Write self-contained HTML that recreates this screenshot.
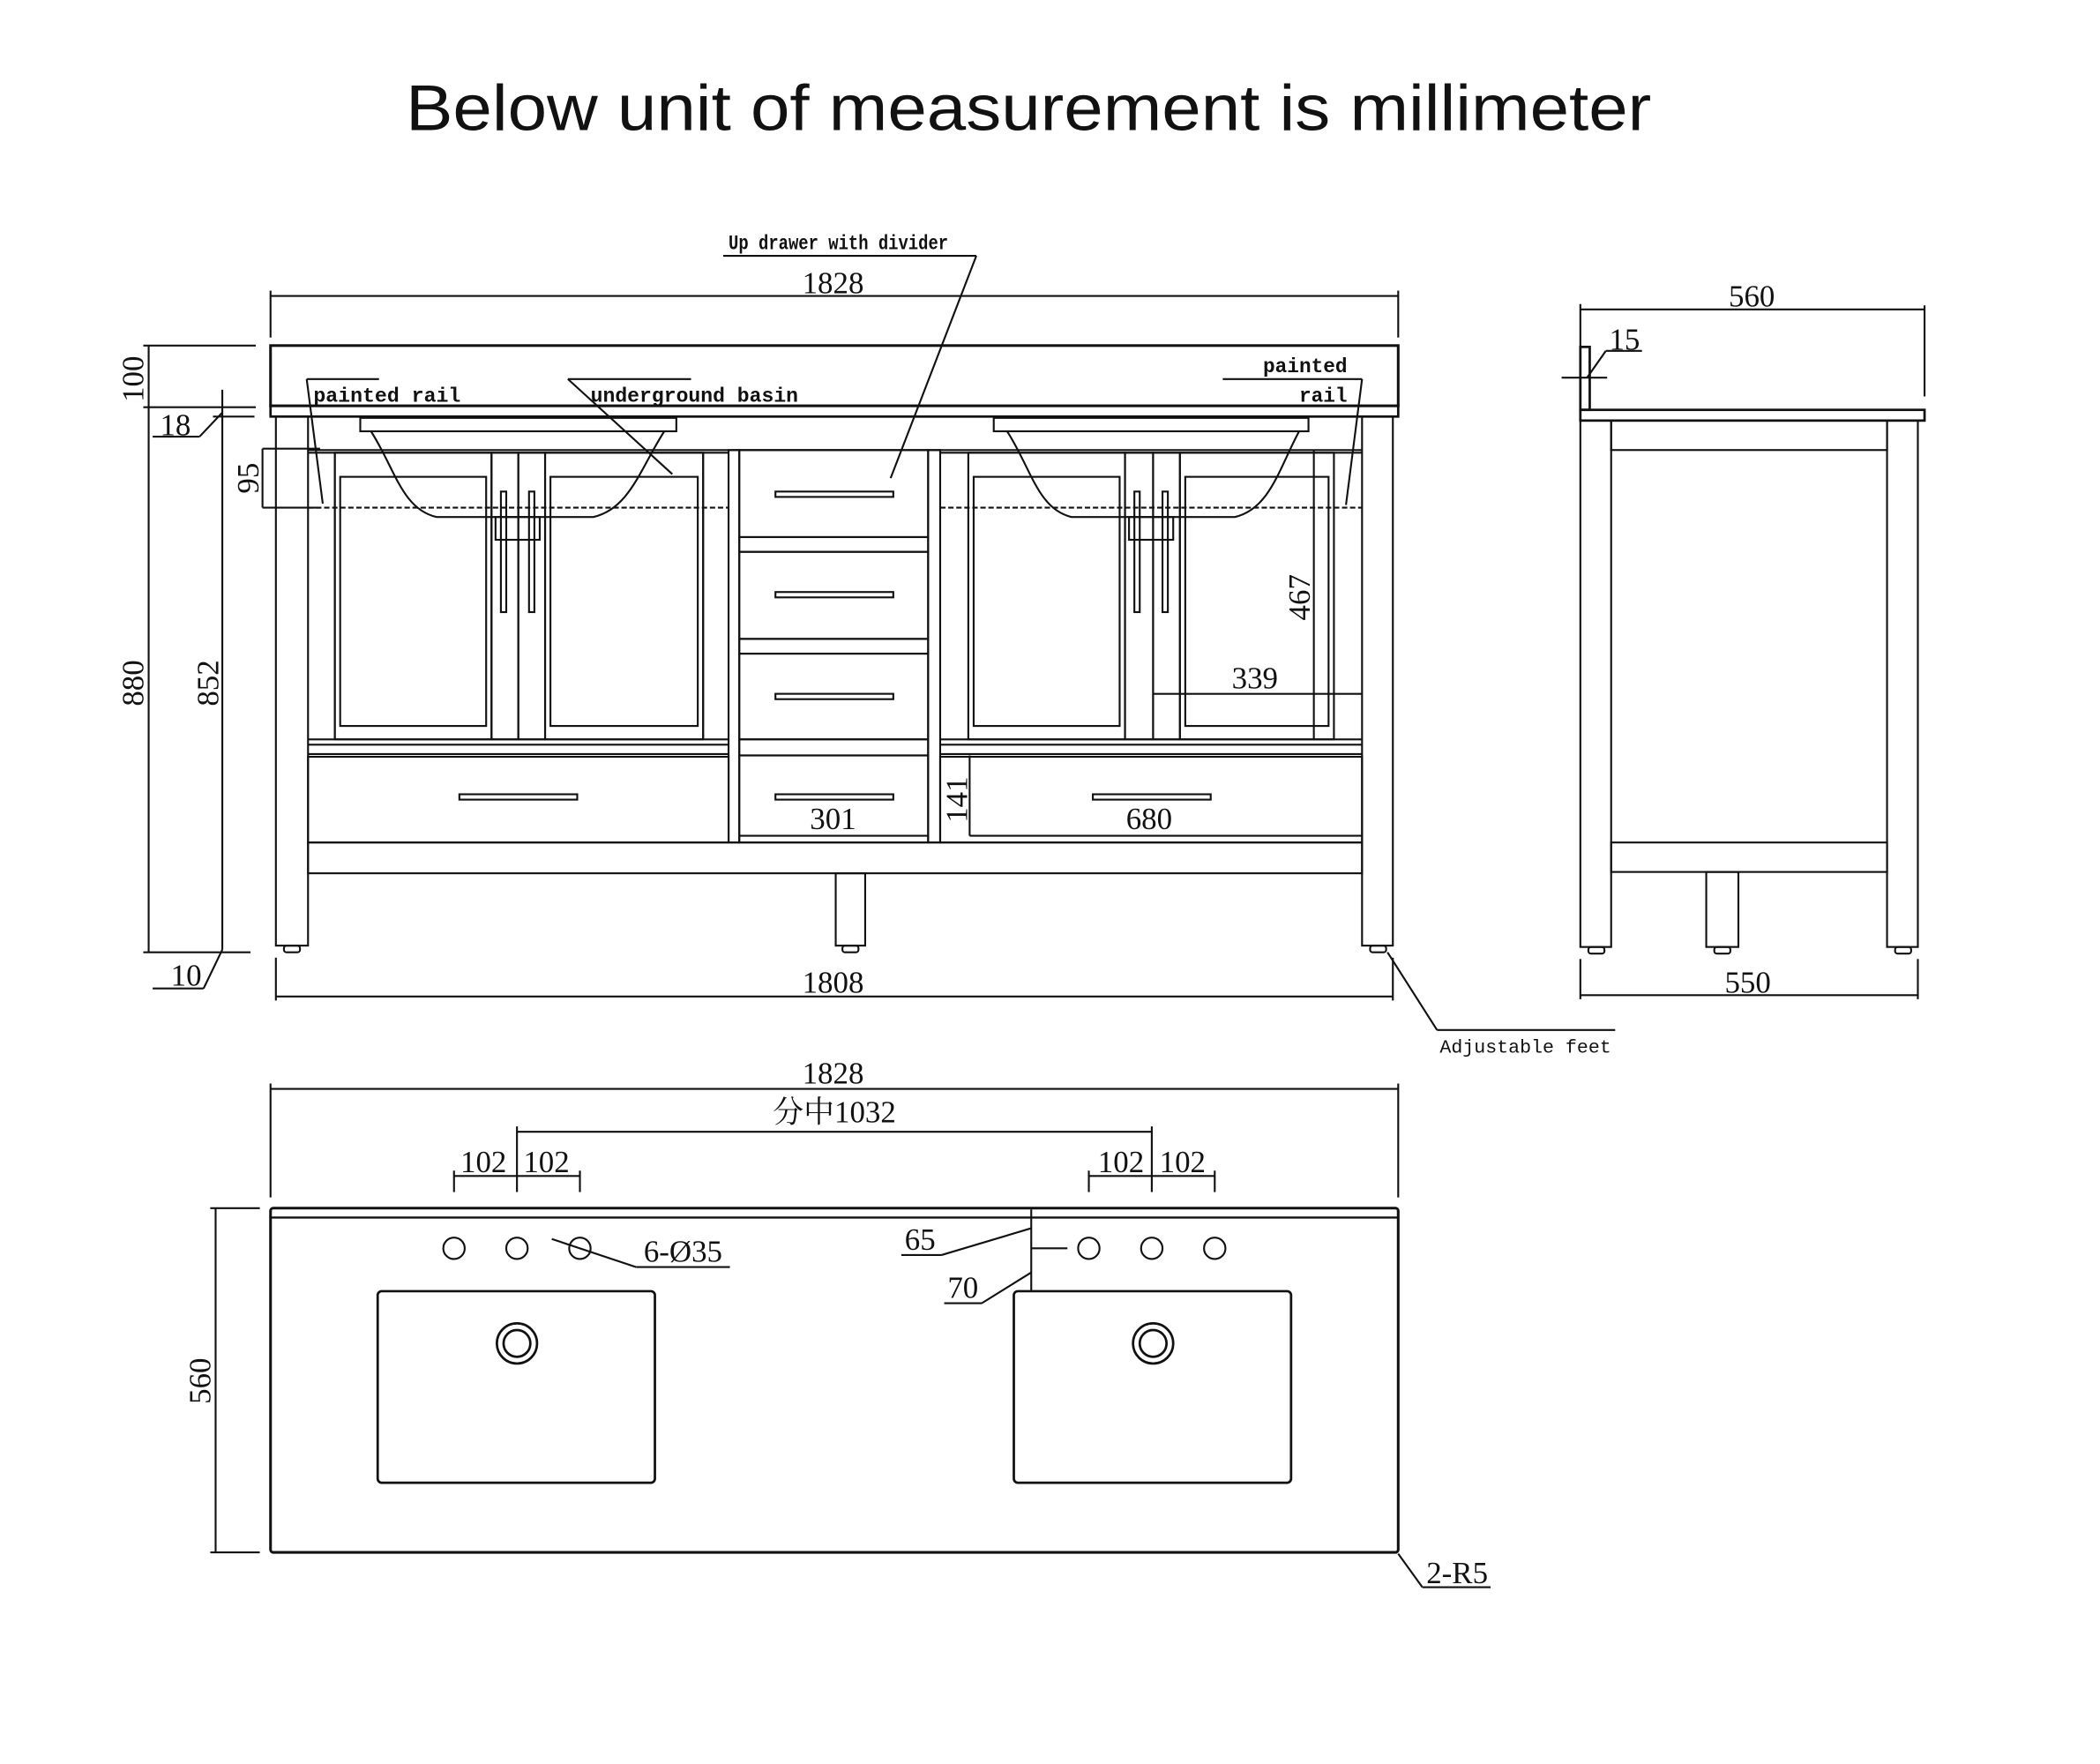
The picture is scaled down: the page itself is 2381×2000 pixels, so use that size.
<!DOCTYPE html>
<html><head><meta charset="utf-8"><style>
html,body{margin:0;padding:0;background:#fff;}
svg{display:block;}
.n{font-family:"Liberation Serif",serif;font-size:23px;fill:#111;}
.b{font-family:"Liberation Mono",monospace;font-weight:bold;font-size:15px;fill:#111;}
</style></head><body>
<svg width="2381" height="2000" viewBox="0 0 1568 1317" preserveAspectRatio="none" xmlns="http://www.w3.org/2000/svg">
<rect width="1568" height="1317" fill="#fff"/>
<text x="768" y="97" text-anchor="middle" font-family="Liberation Sans, sans-serif" font-size="48" fill="#111" textLength="930" lengthAdjust="spacingAndGlyphs">Below unit of measurement is millimeter</text>

<g fill="none" stroke="#111" stroke-width="1.4">
<!-- FRONT VIEW -->
<line x1="202" y1="221" x2="1044" y2="221"/>
<line x1="202" y1="217" x2="202" y2="252"/><line x1="1044" y1="217" x2="1044" y2="252"/>
<rect x="202" y="258" width="842" height="45" stroke-width="2"/>
<rect x="202" y="303" width="842" height="8" stroke-width="1.8"/>
<line x1="540" y1="191" x2="729" y2="191"/><line x1="729" y1="191" x2="665" y2="357"/>
<line x1="111" y1="258" x2="111" y2="711"/>
<line x1="107" y1="258" x2="191" y2="258"/><line x1="107" y1="304" x2="191" y2="304"/>
<line x1="159" y1="311" x2="190" y2="311"/>
<line x1="166" y1="291" x2="166" y2="709"/>
<line x1="114" y1="326" x2="149" y2="326"/><line x1="149" y1="326" x2="166" y2="308"/>
<line x1="107" y1="711" x2="187" y2="711"/>
<line x1="114" y1="738" x2="152" y2="738"/><line x1="152" y1="738" x2="166" y2="709"/>
<rect x="206" y="311" width="24" height="395"/>
<rect x="1017" y="311" width="23" height="395"/>
<rect x="624" y="652" width="22" height="54"/>
<rect x="212" y="706" width="12" height="5" rx="2"/><rect x="1023" y="706" width="12" height="5" rx="2"/><rect x="629" y="706" width="12" height="5" rx="2"/>
<line x1="230" y1="336" x2="1017" y2="336"/>
<line x1="230" y1="338" x2="544" y2="338"/><line x1="702" y1="338" x2="1017" y2="338"/>
<rect x="230" y="629" width="787" height="23"/>
<rect x="544" y="336" width="8" height="293"/>
<rect x="693" y="336" width="9" height="293"/>
<line x1="250" y1="338" x2="250" y2="552"/>
<rect x="250" y="338" width="117" height="214"/>
<rect x="254" y="356" width="109" height="186"/>
<rect x="367" y="338" width="20" height="214"/>
<rect x="387" y="338" width="20" height="214"/>
<rect x="407" y="338" width="118" height="214"/>
<rect x="411" y="356" width="110" height="186"/>
<line x1="525" y1="338" x2="525" y2="552"/>
<rect x="723" y="338" width="117" height="214"/>
<rect x="727" y="356" width="109" height="186"/>
<rect x="840" y="338" width="21" height="214"/>
<rect x="861" y="338" width="20" height="214"/>
<rect x="881" y="338" width="115" height="214"/>
<rect x="885" y="356" width="107" height="186"/>
<line x1="230" y1="552" x2="544" y2="552"/><line x1="230" y1="556" x2="544" y2="556"/><line x1="230" y1="563" x2="544" y2="563"/>
<line x1="702" y1="552" x2="1017" y2="552"/><line x1="702" y1="556" x2="1017" y2="556"/><line x1="702" y1="563" x2="1017" y2="563"/>
<rect x="230" y="565" width="314" height="64"/>
<rect x="702" y="565" width="315" height="64"/>
<rect x="552" y="336" width="141" height="65"/>
<rect x="552" y="401" width="141" height="11"/>
<rect x="552" y="412" width="141" height="65"/>
<rect x="552" y="477" width="141" height="11"/>
<rect x="552" y="488" width="141" height="64"/>
<rect x="552" y="552" width="141" height="12"/>
<rect x="552" y="564" width="141" height="65"/>
<rect x="269" y="312" width="236" height="10"/>
<path d="M277 322 C295 350 300 380 326 386 L443 386 C470 380 478 350 496 322"/>
<rect x="742" y="312" width="235" height="10"/>
<path d="M752 322 C770 350 775 380 800 386 L922 386 C948 380 955 350 970 322"/>
<line x1="230" y1="379" x2="544" y2="379" stroke-dasharray="4 2"/>
<line x1="702" y1="379" x2="1017" y2="379" stroke-dasharray="4 2"/>
<rect x="374" y="367" width="4" height="90"/><rect x="395" y="367" width="4" height="90"/>
<rect x="370" y="386" width="33" height="17"/>
<rect x="847" y="367" width="4" height="90"/><rect x="868" y="367" width="4" height="90"/>
<rect x="843" y="386" width="33" height="17"/>
<rect x="579" y="367" width="88" height="4"/>
<rect x="579" y="442" width="88" height="4"/>
<rect x="579" y="518" width="88" height="4"/>
<rect x="579" y="593" width="88" height="4"/>
<rect x="343" y="593" width="88" height="4"/>
<rect x="816" y="593" width="88" height="4"/>
<line x1="196" y1="335" x2="196" y2="379"/><line x1="196" y1="335" x2="239" y2="335"/><line x1="196" y1="379" x2="239" y2="379"/>
<line x1="981" y1="336" x2="981" y2="552"/>
<line x1="861" y1="518" x2="1017" y2="518"/>
<line x1="552" y1="624" x2="693" y2="624"/>
<line x1="724" y1="564" x2="724" y2="624"/>
<line x1="724" y1="624" x2="1017" y2="624"/>
<line x1="229" y1="283" x2="283" y2="283"/><line x1="229" y1="283" x2="241" y2="376"/>
<line x1="424" y1="283" x2="516" y2="283"/><line x1="424" y1="283" x2="502" y2="354"/>
<line x1="913" y1="283" x2="1017" y2="283"/><line x1="1017" y1="283" x2="1005" y2="377"/>
<line x1="206" y1="744" x2="1040" y2="744"/>
<line x1="206" y1="715" x2="206" y2="747"/><line x1="1040" y1="715" x2="1040" y2="747"/>
<line x1="1036" y1="711" x2="1073" y2="769"/><line x1="1073" y1="769" x2="1206" y2="769"/>

<!-- SIDE VIEW -->
<line x1="1180" y1="231" x2="1437" y2="231"/>
<line x1="1180" y1="227" x2="1180" y2="260"/><line x1="1437" y1="228" x2="1437" y2="296"/>
<rect x="1180" y="259" width="7" height="47" stroke-width="1.8"/>
<rect x="1180" y="306" width="257" height="8" stroke-width="1.8"/>
<rect x="1180" y="314" width="23" height="393"/>
<rect x="1409" y="314" width="23" height="393"/>
<rect x="1274" y="651" width="24" height="56"/>
<rect x="1203" y="314" width="206" height="22"/>
<rect x="1203" y="629" width="206" height="22"/>
<rect x="1186" y="707" width="12" height="5" rx="2"/><rect x="1280" y="707" width="12" height="5" rx="2"/><rect x="1415" y="707" width="12" height="5" rx="2"/>
<line x1="1166" y1="282" x2="1200" y2="282"/>
<line x1="1185" y1="282" x2="1199" y2="262"/><line x1="1199" y1="262" x2="1226" y2="262"/>
<line x1="1180" y1="743" x2="1432" y2="743"/>
<line x1="1180" y1="716" x2="1180" y2="746"/><line x1="1432" y1="716" x2="1432" y2="746"/>

<!-- TOP VIEW -->
<line x1="202" y1="813" x2="1044" y2="813"/>
<line x1="202" y1="809" x2="202" y2="894"/><line x1="1044" y1="809" x2="1044" y2="894"/>
<line x1="386" y1="845" x2="860" y2="845"/>
<line x1="386" y1="841" x2="386" y2="890"/><line x1="860" y1="841" x2="860" y2="890"/>
<line x1="339" y1="878" x2="433" y2="878"/>
<line x1="339" y1="874" x2="339" y2="890"/><line x1="433" y1="874" x2="433" y2="890"/>
<line x1="813" y1="878" x2="907" y2="878"/>
<line x1="813" y1="874" x2="813" y2="890"/><line x1="907" y1="874" x2="907" y2="890"/>
<rect x="202" y="902" width="842" height="257" rx="2" stroke-width="2"/>
<line x1="202" y1="909" x2="1044" y2="909" stroke-width="1.6"/>
<line x1="161" y1="902" x2="161" y2="1159"/>
<line x1="157" y1="902" x2="194" y2="902"/><line x1="157" y1="1159" x2="194" y2="1159"/>
<circle cx="339" cy="932" r="8"/><circle cx="386" cy="932" r="8"/><circle cx="433" cy="932" r="8"/>
<circle cx="813" cy="932" r="8"/><circle cx="860" cy="932" r="8"/><circle cx="907" cy="932" r="8"/>
<line x1="412" y1="925" x2="475" y2="946"/><line x1="475" y1="946" x2="545" y2="946"/>
<rect x="282" y="964" width="207" height="143" rx="3" stroke-width="1.8"/>
<rect x="757" y="964" width="207" height="143" rx="3" stroke-width="1.8"/>
<circle cx="386" cy="1003" r="15" stroke-width="1.8"/><circle cx="386" cy="1003" r="10" stroke-width="1.8"/>
<circle cx="861" cy="1003" r="15" stroke-width="1.8"/><circle cx="861" cy="1003" r="10" stroke-width="1.8"/>
<line x1="770" y1="903" x2="770" y2="964"/>
<line x1="770" y1="932" x2="797" y2="932"/>
<line x1="673" y1="937" x2="703" y2="937"/><line x1="703" y1="937" x2="770" y2="917"/>
<line x1="705" y1="973" x2="733" y2="973"/><line x1="733" y1="973" x2="770" y2="950"/>
<line x1="1044" y1="1160" x2="1062" y2="1185"/><line x1="1062" y1="1185" x2="1113" y2="1185"/>
</g>

<text class="b" x="626" y="186" text-anchor="middle" textLength="164" lengthAdjust="spacingAndGlyphs" font-size="14">Up drawer with divider</text>
<text class="n" x="622" y="219" text-anchor="middle">1828</text>
<text class="b" x="234" y="300" textLength="110" lengthAdjust="spacingAndGlyphs">painted rail</text>
<text class="b" x="441" y="300" textLength="155" lengthAdjust="spacingAndGlyphs">underground basin</text>
<text class="b" x="1006" y="278" text-anchor="end">painted</text>
<text class="b" x="1006" y="300" text-anchor="end">rail</text>
<text class="n" transform="translate(107,283) rotate(-90)" text-anchor="middle">100</text>
<text class="n" x="131" y="325" text-anchor="middle">18</text>
<text class="n" transform="translate(193,357) rotate(-90)" text-anchor="middle">95</text>
<text class="n" transform="translate(107,510) rotate(-90)" text-anchor="middle">880</text>
<text class="n" transform="translate(163,510) rotate(-90)" text-anchor="middle">852</text>
<text class="n" x="139" y="736" text-anchor="middle">10</text>
<text class="n" transform="translate(978,446) rotate(-90)" text-anchor="middle">467</text>
<text class="n" x="937" y="514" text-anchor="middle">339</text>
<text class="n" x="622" y="619" text-anchor="middle">301</text>
<text class="n" transform="translate(722,597) rotate(-90)" text-anchor="middle">141</text>
<text class="n" x="858" y="619" text-anchor="middle">680</text>
<text class="n" x="622" y="741" text-anchor="middle">1808</text>
<text x="1139" y="786" text-anchor="middle" font-family="Liberation Mono, monospace" font-size="14" fill="#111" textLength="128" lengthAdjust="spacingAndGlyphs">Adjustable feet</text>
<text class="n" x="1308" y="229" text-anchor="middle">560</text>
<text class="n" x="1213" y="261" text-anchor="middle">15</text>
<text class="n" x="1305" y="741" text-anchor="middle">550</text>
<text class="n" x="622" y="809" text-anchor="middle">1828</text>
<text x="623" y="838" text-anchor="middle" font-family="Liberation Serif, Noto Serif CJK SC, serif" font-size="23" fill="#111">分中1032</text>
<text class="n" x="361" y="875" text-anchor="middle">102</text>
<text class="n" x="408" y="875" text-anchor="middle">102</text>
<text class="n" x="837" y="875" text-anchor="middle">102</text>
<text class="n" x="883" y="875" text-anchor="middle">102</text>
<text class="n" x="510" y="942" text-anchor="middle">6-Ø35</text>
<text class="n" x="687" y="933" text-anchor="middle">65</text>
<text class="n" x="719" y="969" text-anchor="middle">70</text>
<text class="n" transform="translate(157,1031) rotate(-90)" text-anchor="middle">560</text>
<text class="n" x="1088" y="1182" text-anchor="middle">2-R5</text>
</svg>
</body></html>
